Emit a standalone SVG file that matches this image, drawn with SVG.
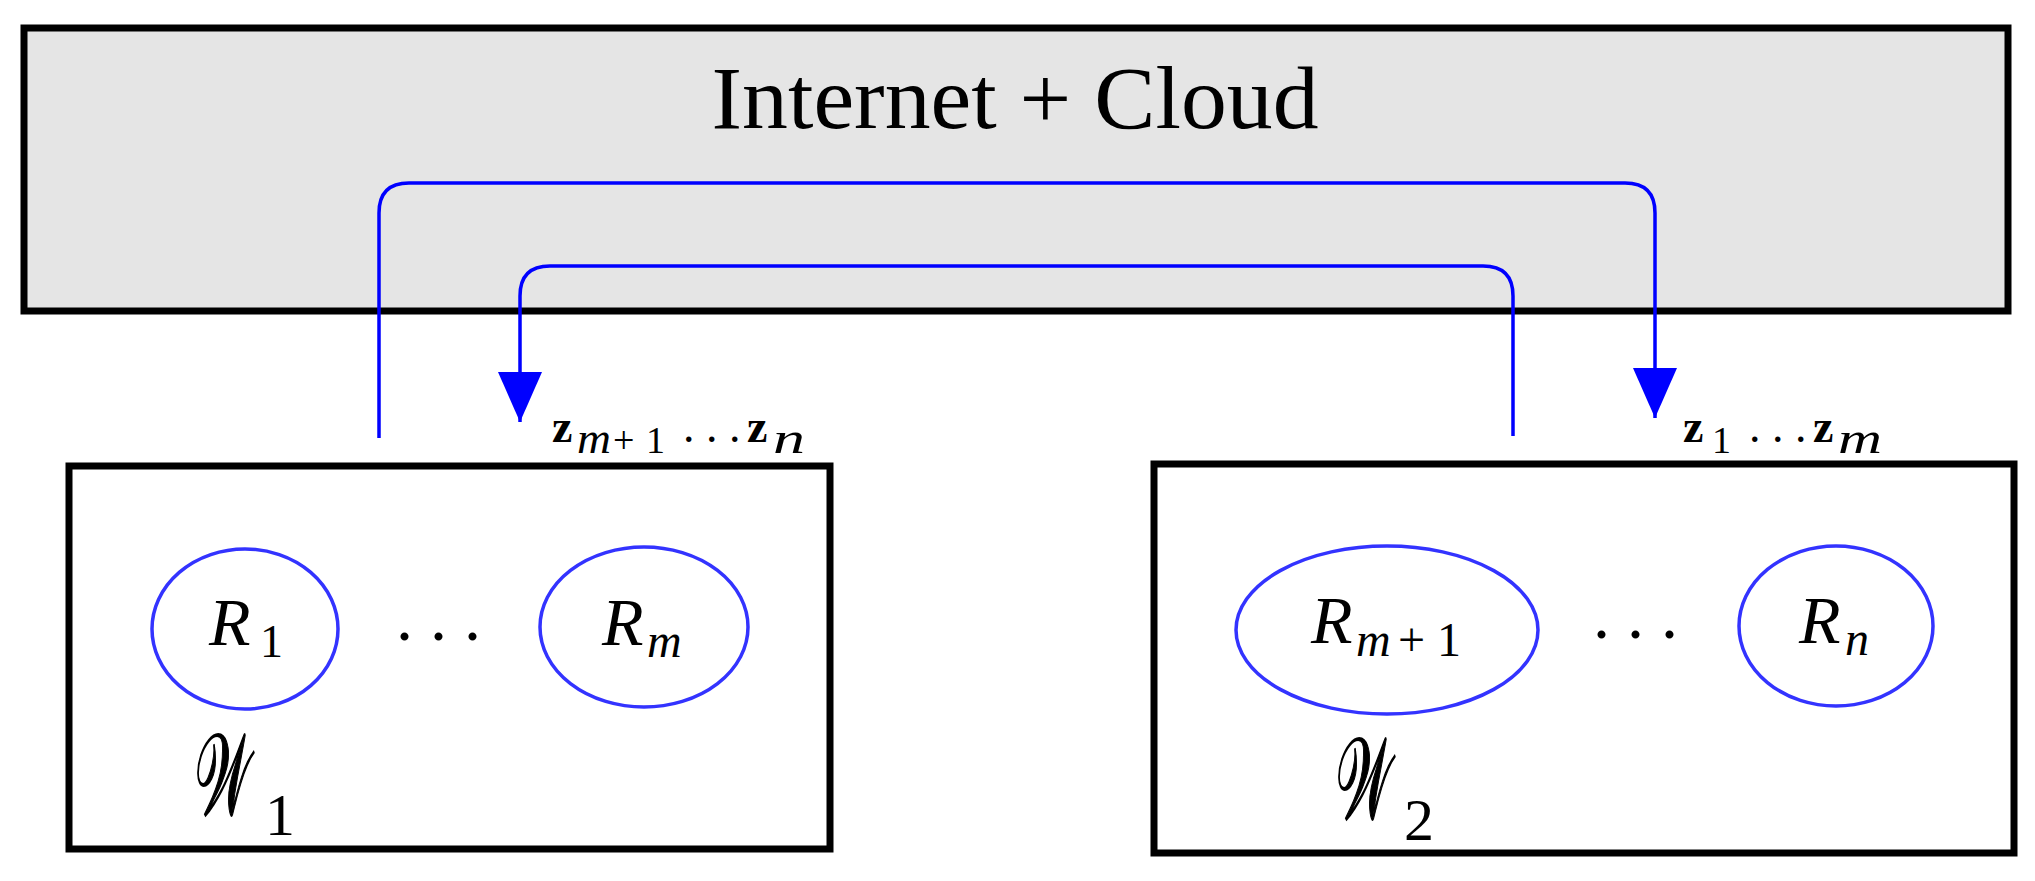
<svg xmlns="http://www.w3.org/2000/svg" width="2035" height="881" viewBox="0 0 2035 881">
<defs>
<style>
.box{fill:#ffffff;stroke:#000000;stroke-width:7}
.cloud{fill:#e5e5e5;stroke:#000000;stroke-width:7}
.res{fill:none;stroke:#3333ff;stroke-width:3.5}
.conn{fill:none;stroke:#0000ff;stroke-width:3.5}
.t{font-family:"Liberation Serif","Times New Roman",serif;fill:#000000}
.it{font-style:italic}
.bd{font-weight:bold}
.scr{font-family:"Liberation Serif",serif;fill:#000000;stroke:#000000;stroke-width:2}
</style>
<marker id="arr" markerUnits="userSpaceOnUse" markerWidth="50" markerHeight="44" refX="50" refY="22" orient="auto" viewBox="0 0 50 44">
<path d="M0,0 L50,22 L0,44 Z" fill="#0000ff"/>
</marker>
</defs>
<rect width="2035" height="881" fill="#ffffff"/>
<g id="cloud">
<rect class="cloud" x="24" y="28" width="1984" height="283"/>
<text class="t" x="1015" y="128" font-size="88" text-anchor="middle" textLength="607" lengthAdjust="spacingAndGlyphs">Internet + Cloud</text>
</g>
<g id="w1">
<rect class="box" x="69" y="466" width="761" height="383"/>
<ellipse class="res" cx="245" cy="629" rx="93" ry="80"/>
<text class="t" font-size="68"><tspan class="it" x="209" y="645">R</tspan><tspan x="260" y="657" font-size="46">1</tspan></text>
<text class="t" x="396" y="640" font-size="68">. . .</text>
<ellipse class="res" cx="644" cy="627" rx="104" ry="80"/>
<text class="t it" font-size="68"><tspan x="602" y="645">R</tspan><tspan x="647" y="657" font-size="48">m</tspan></text>
<text class="scr" font-size="115" transform="translate(195,815) scale(0.46,1)">𝒲</text>
<text class="t" x="265" y="835" font-size="60">1</text>
</g>
<g id="w2">
<rect class="box" x="1154" y="464" width="860" height="389"/>
<ellipse class="res" cx="1387" cy="630" rx="151" ry="84"/>
<text class="t" font-size="68"><tspan class="it" x="1311" y="643">R</tspan><tspan class="it" x="1356" y="656" font-size="48">m</tspan><tspan x="1398" y="656" font-size="48">+</tspan><tspan x="1437" y="656" font-size="48">1</tspan></text>
<text class="t" x="1593" y="638" font-size="68">. . .</text>
<ellipse class="res" cx="1836" cy="626" rx="97" ry="80"/>
<text class="t it" font-size="68"><tspan x="1799" y="643">R</tspan><tspan x="1845" y="655" font-size="48">n</tspan></text>
<text class="scr" font-size="115" transform="translate(1336,819) scale(0.46,1)">𝒲</text>
<text class="t" x="1404" y="840" font-size="60">2</text>
</g>
<g id="label-left">
<text class="t" font-size="46"><tspan class="bd" x="552" y="442">z</tspan><tspan class="it" x="577" y="453" font-size="44" textLength="34" lengthAdjust="spacingAndGlyphs">m</tspan><tspan x="613" y="453" font-size="38">+</tspan><tspan x="646" y="453" font-size="38">1</tspan><tspan x="683" y="442">. . .</tspan><tspan class="bd" x="747" y="442">z</tspan><tspan class="it" x="773" y="453" font-size="44" textLength="32" lengthAdjust="spacingAndGlyphs">n</tspan></text>
</g>
<g id="label-right">
<text class="t" font-size="46"><tspan class="bd" x="1683" y="442">z</tspan><tspan x="1712" y="453" font-size="38">1</tspan><tspan x="1749" y="442">. . .</tspan><tspan class="bd" x="1813" y="442">z</tspan><tspan class="it" x="1838" y="453" font-size="44" textLength="44" lengthAdjust="spacingAndGlyphs">m</tspan></text>
</g>
<g id="connectors">
<path class="conn" d="M379,438 V213 Q379,183 409,183 H1625 Q1655,183 1655,213 V418" marker-end="url(#arr)"/>
<path class="conn" d="M1513,436 V296 Q1513,266 1483,266 H550 Q520,266 520,296 V422" marker-end="url(#arr)"/>
</g>
</svg>
